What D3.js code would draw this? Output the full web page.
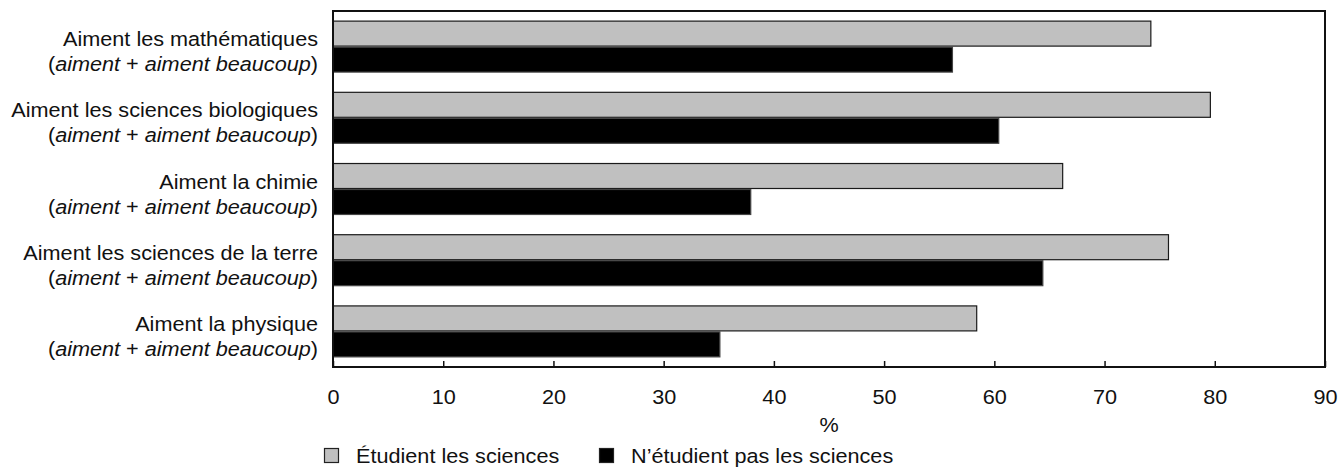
<!DOCTYPE html>
<html>
<head>
<meta charset="utf-8">
<script src="https://cdn.jsdelivr.net/npm/d3@7"></script>
<style>
  body { margin: 0; background: #fff; }
  svg { display: block; font-family: "Liberation Sans", Arial, sans-serif; }
</style>
</head>
<body>
<div id="chart"></div>
<script>
// data
var categories = [
  "Aiment les mathématiques",
  "Aiment les sciences biologiques",
  "Aiment la chimie",
  "Aiment les sciences de la terre",
  "Aiment la physique"
];
var etudient = [74.2, 79.6, 66.2, 75.8, 58.4];
var nEtudient = [56.2, 60.4, 37.9, 64.4, 35.1];
var seriesNames = ["Étudient les sciences", "N’étudient pas les sciences"];
var ticks = [0, 10, 20, 30, 40, 50, 60, 70, 80, 90];

var W = 1340, H = 468;
var margin = { top: 11, right: 15, bottom: 101, left: 333 };
var width = W - margin.left - margin.right,
  height = H - margin.top - margin.bottom;
var stretch = 1.11; // the glyphs are wider than plain Arial
var fontSize = 19.5;

var svg = d3.select("#chart")
  .append("svg")
  .attr("width", W)
  .attr("height", H);

var g = svg.append("g")
  .attr("transform", "translate(" + margin.left + "," + margin.top + ")");

var x = d3.scaleLinear()
  .domain([0, 90])
  .range([0, width]);

var y = d3.scaleBand()
  .domain(categories)
  .range([0, height])
  .paddingInner(0.27)
  .paddingOuter(0.135);

var sub = d3.scaleBand()
  .domain([0, 1])
  .range([0, y.bandwidth()]);

var rows = categories.map(function (c, i) {
  return { cat: c, vals: [etudient[i], nEtudient[i]] };
});
var fills = ["#c0c0c0", "#000000"];
var strokes = ["#1a1a1a", "#444"];

// bars
var grp = g.selectAll(".cat")
  .data(rows)
  .enter()
  .append("g")
  .attr("class", "cat")
  .attr("transform", function (d) { return "translate(0," + y(d.cat) + ")"; });

grp.selectAll("rect")
  .data(function (d) { return d.vals; })
  .enter()
  .append("rect")
  .attr("x", x(0))
  .attr("y", function (d, j) { return sub(j) + 0.5; })
  .attr("width", function (d) { return x(d) - x(0); })
  .attr("height", sub.bandwidth() - 1)
  .attr("fill", function (d, j) { return fills[j]; })
  .attr("stroke", function (d, j) { return strokes[j]; })
  .attr("stroke-width", 1.2);

// category labels, two lines
var lab = grp.append("g")
  .attr("transform", "translate(-15,0)");

lab.append("text")
  .attr("transform", "translate(0," + 25.5 + ") scale(" + stretch + ",1)")
  .attr("text-anchor", "end")
  .attr("font-size", fontSize)
  .attr("fill", "#111")
  .text(function (d) { return d.cat; });

var l2 = lab.append("text")
  .attr("transform", "translate(0," + 50.5 + ") scale(" + stretch + ",1)")
  .attr("text-anchor", "end")
  .attr("font-size", fontSize)
  .attr("fill", "#111");
l2.append("tspan").text("(");
l2.append("tspan").attr("font-style", "italic").text("aiment");
l2.append("tspan").text(" + ");
l2.append("tspan").attr("font-style", "italic").text("aiment beaucoup");
l2.append("tspan").text(")");

// x axis, ticks pointing inward
var xAxis = g.append("g")
  .attr("transform", "translate(0," + height + ")")
  .call(d3.axisBottom(x).tickValues(ticks).tickSizeInner(-6).tickSizeOuter(0));
xAxis.select(".domain").remove();
xAxis.selectAll(".tick line").attr("stroke", "#111").attr("stroke-width", 1.5);
xAxis.selectAll(".tick text")
  .attr("y", 0).attr("dy", null)
  .attr("transform", "translate(0,37) scale(" + stretch + ",1)")
  .attr("font-size", fontSize)
  .attr("font-family", "Liberation Sans, Arial, sans-serif")
  .attr("fill", "#111");

// frame
g.append("rect")
  .attr("x", 0).attr("y", 0)
  .attr("width", width).attr("height", height)
  .attr("fill", "none")
  .attr("stroke", "#111")
  .attr("stroke-width", 2);

// axis title
g.append("text")
  .attr("transform", "translate(" + x(45) + "," + (height + 65) + ") scale(" + stretch + ",1)")
  .attr("text-anchor", "middle")
  .attr("font-size", fontSize)
  .attr("fill", "#111")
  .text("%");

// legend
var legendX = [324, 599];
var leg = svg.selectAll(".leg")
  .data(seriesNames)
  .enter()
  .append("g")
  .attr("class", "leg")
  .attr("transform", function (d, i) { return "translate(" + legendX[i] + ",448)"; });

leg.append("rect")
  .attr("x", 0.5).attr("y", 0.5)
  .attr("width", 14).attr("height", 14)
  .attr("fill", function (d, i) { return fills[i]; })
  .attr("stroke", "#222")
  .attr("stroke-width", 1.2);

leg.append("text")
  .attr("transform", "translate(32,15) scale(" + stretch + ",1)")
  .attr("font-size", fontSize)
  .attr("fill", "#111")
  .text(function (d) { return d; });
</script>
</body>
</html>
